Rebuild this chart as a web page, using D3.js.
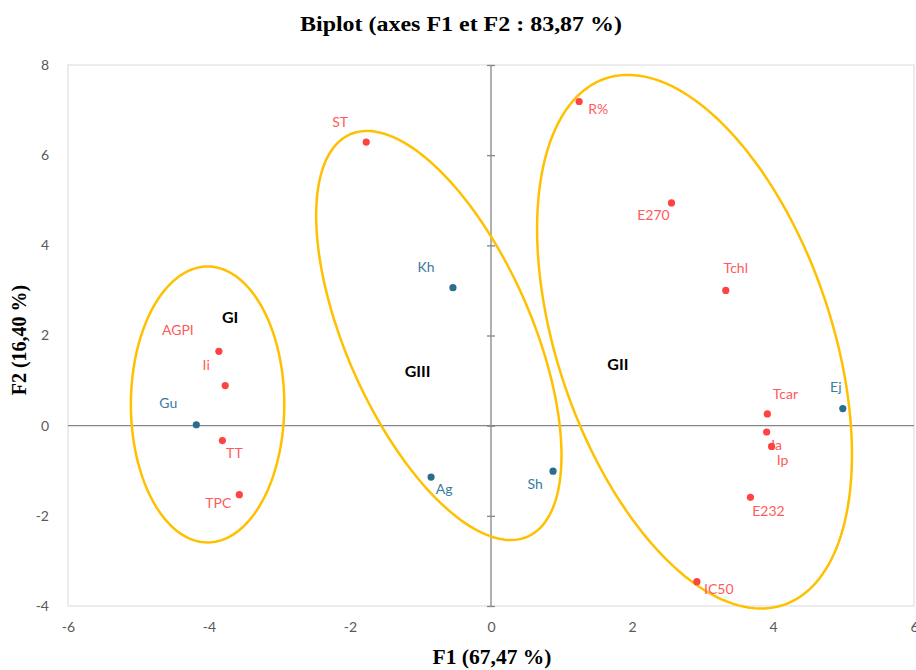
<!DOCTYPE html>
<html lang="fr">
<head>
    <meta charset="UTF-8">
    <title>Biplot</title>
    <script src="https://cdn.jsdelivr.net/npm/d3@7/dist/d3.min.js"></script>
    <style>
        body { margin: 0; background: #fff; }
        svg { display: block; }
    </style>
</head>
<body>
    <svg width="916" height="670"></svg>
    <script>
        // observations (blue)
        const obsNames = ['Gu', 'Kh', 'Ag', 'Sh', 'Ej']
        const obsF1 = [-4.18, -0.54, -0.85, 0.88, 4.99]
        const obsF2 = [0.02, 3.06, -1.14, -1.01, 0.38]

        // variables (red)
        const varNames = ['ST', 'R%', 'E270', 'Tchl', 'Tcar', 'Ia', 'Ip', 'E232', 'IC50', 'AGPI', 'Ii', 'TT', 'TPC']
        const varF1 = [-1.77, 1.25, 2.56, 3.33, 3.92, 3.91, 3.98, 3.68, 2.92, -3.86, -3.77, -3.81, -3.57]
        const varF2 = [6.29, 7.19, 4.94, 3.00, 0.26, -0.14, -0.46, -1.59, -3.46, 1.65, 0.89, -0.33, -1.53]

        // group ellipses : name, label position, centre, two half-axis vectors (all in F1/F2 units)
        const groupNames = ['GI', 'GII', 'GIII']
        const groupLabelF1 = [-3.70, 1.80, -1.04]
        const groupLabelF2 = [2.42, 1.37, 1.22]
        const groupCenter = [[-4.02, 0.47], [2.887, 1.862], [-0.74, 2.0]]
        const groupAxisU = [[1.088, 0], [1.264, -5.838], [1.26, -4.46]]
        const groupAxisV = [[0, 3.06], [-1.841, -0.974], [-1.20, -0.83]]

        const xTicks = [-6, -4, -2, 0, 2, 4, 6]
        const yTicks = [-4, -2, 0, 2, 4, 6, 8]

        // label offsets in px (dx, dy) like the excel data labels
        const labelOffset = {
            Gu: [-28, -22], Kh: [-27, -21], Ag: [13, 11], Sh: [-18, 12], Ej: [-7, -22],
            ST: [-26, -21], 'R%': [19, 7], E270: [-18, 12], Tchl: [10, -23], Tcar: [18, -20],
            Ia: [10, 13], Ip: [11, 13], E232: [18, 13], IC50: [22, 7],
            AGPI: [-41, -22], Ii: [-19, -21], TT: [12, 12], TPC: [-21, 8]
        }

        const svg = d3.select('svg')
        const x = d3.scaleLinear().domain([-6, 6]).range([68, 914])
        const y = d3.scaleLinear().domain([-4, 8]).range([606, 65])

        // title
        svg.append('text')
            .attr('x', 461).attr('y', 31)
            .attr('text-anchor', 'middle')
            .attr('font-family', 'Liberation Serif, Times New Roman, serif')
            .attr('font-weight', 'bold')
            .attr('font-size', 20)
            .attr('textLength', 322)
            .attr('lengthAdjust', 'spacingAndGlyphs')
            .text('Biplot (axes F1 et F2 : 83,87 %)')

        // plot frame
        svg.append('rect')
            .attr('x', 68).attr('y', 65)
            .attr('width', 846).attr('height', 541)
            .attr('fill', 'none')
            .attr('stroke', '#d9d9d9')
            .attr('stroke-width', 1)

        // tick labels (plain hyphen like excel)
        const tickStyle = g => {
            g.select('.domain').remove()
            g.selectAll('line').remove()
            g.selectAll('text')
                .attr('fill', '#595959')
                .attr('font-family', 'Lato, sans-serif')
                .attr('font-size', 14)
        }
        svg.append('g')
            .attr('transform', 'translate(0,606)')
            .call(d3.axisBottom(x).tickValues(xTicks).tickSize(0).tickPadding(16).tickFormat(d => String(d)))
            .call(tickStyle)
        svg.append('g')
            .attr('transform', 'translate(68,0)')
            .call(d3.axisLeft(y).tickValues(yTicks).tickSize(0).tickPadding(19).tickFormat(d => String(d)))
            .call(tickStyle)

        // zero lines
        svg.append('line')
            .attr('x1', x(0)).attr('x2', x(0))
            .attr('y1', y(8)).attr('y2', y(-4))
            .attr('stroke', '#868686').attr('stroke-width', 1.3)
        svg.append('line')
            .attr('x1', x(-6)).attr('x2', x(6))
            .attr('y1', y(0)).attr('y2', y(0))
            .attr('stroke', '#868686').attr('stroke-width', 1.3)

        // cross ticks on the vertical zero axis
        svg.append('g')
            .attr('transform', 'translate(' + (x(0) - 4) + ',0)')
            .call(d3.axisRight(y).tickValues(yTicks).tickSize(8).tickFormat(''))
            .call(g => g.select('.domain').remove())
            .call(g => g.selectAll('line').attr('stroke', '#868686').attr('stroke-width', 1.3))

        // axis titles
        svg.append('text')
            .attr('x', 492).attr('y', 664)
            .attr('text-anchor', 'middle')
            .attr('font-family', 'Liberation Serif, Times New Roman, serif')
            .attr('font-weight', 'bold')
            .attr('font-size', 20)
            .attr('textLength', 119)
            .attr('lengthAdjust', 'spacingAndGlyphs')
            .text('F1 (67,47 %)')
        svg.append('text')
            .attr('transform', 'translate(26,340) rotate(-90)')
            .attr('text-anchor', 'middle')
            .attr('font-family', 'Liberation Serif, Times New Roman, serif')
            .attr('font-weight', 'bold')
            .attr('font-size', 20)
            .text('F2 (16,40 %)')

        // ellipses
        const ellipsePath = d3.line().curve(d3.curveLinearClosed)
        const groups = groupNames.map((name, i) => ({
            name: name,
            c: groupCenter[i], u: groupAxisU[i], v: groupAxisV[i],
            lx: groupLabelF1[i], ly: groupLabelF2[i]
        }))
        svg.append('g')
            .selectAll('path')
            .data(groups)
            .join('path')
            .attr('d', g => {
                const pts = d3.range(0, 2 * Math.PI, Math.PI / 90).map(t => {
                    const px = g.c[0] + g.u[0] * Math.cos(t) + g.v[0] * Math.sin(t)
                    const py = g.c[1] + g.u[1] * Math.cos(t) + g.v[1] * Math.sin(t)
                    return [x(px), y(py)]
                })
                return ellipsePath(pts)
            })
            .attr('fill', 'none')
            .attr('stroke', '#ffc000')
            .attr('stroke-width', 2.5)

        svg.append('g')
            .selectAll('text')
            .data(groups)
            .join('text')
            .attr('x', g => x(g.lx))
            .attr('y', g => y(g.ly))
            .attr('text-anchor', 'middle')
            .attr('dominant-baseline', 'central')
            .attr('font-family', 'Lato, sans-serif')
            .attr('font-weight', 'bold')
            .attr('font-size', 16)
            .attr('fill', '#000')
            .text(g => g.name)

        // points + labels
        const points = []
        varNames.forEach((n, i) => points.push({ name: n, f1: varF1[i], f2: varF2[i], dot: '#ff4343', lab: '#ff5a5a' }))
        obsNames.forEach((n, i) => points.push({ name: n, f1: obsF1[i], f2: obsF2[i], dot: '#2a6d8e', lab: '#3a7a9e' }))

        const pt = svg.append('g')
            .selectAll('g')
            .data(points)
            .join('g')
            .attr('transform', d => 'translate(' + x(d.f1) + ',' + y(d.f2) + ')')
        pt.append('circle')
            .attr('r', 3.6)
            .attr('fill', d => d.dot)
        pt.append('text')
            .attr('x', d => labelOffset[d.name][0])
            .attr('y', d => labelOffset[d.name][1])
            .attr('text-anchor', 'middle')
            .attr('dominant-baseline', 'central')
            .attr('font-family', 'Lato, sans-serif')
            .attr('font-size', 14)
            .attr('fill', d => d.lab)
            .text(d => d.name)
    </script>
</body>
</html>
